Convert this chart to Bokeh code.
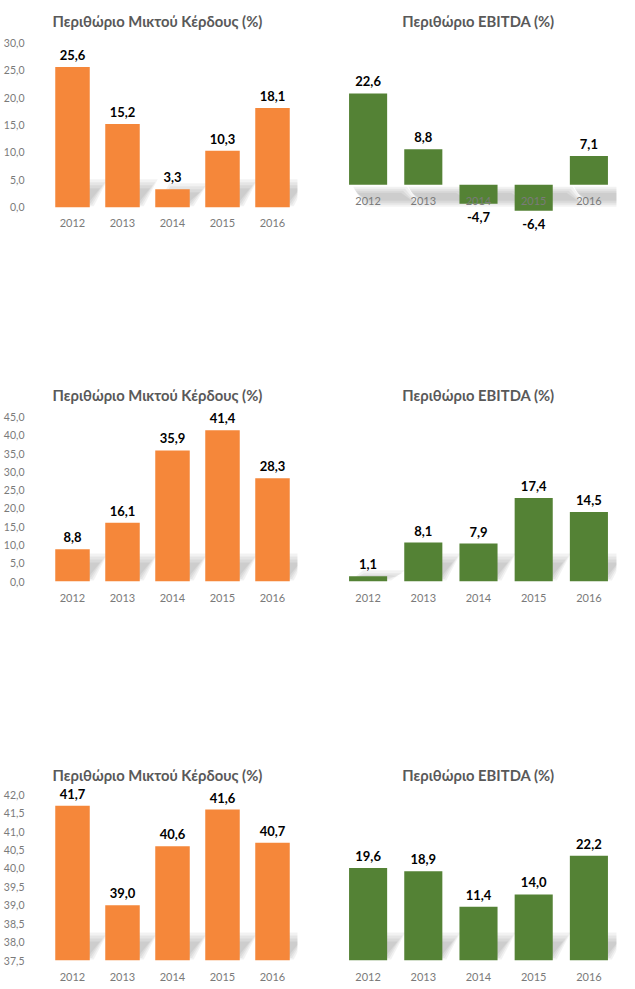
from bokeh.plotting import figure
from bokeh.models import Range1d, FixedTicker, ColumnDataSource, LabelSet
from bokeh.layouts import column, row
from bokeh.core.properties import value
from bokeh.embed import file_html
from bokeh.resources import INLINE

years = ["2012", "2013", "2014", "2015", "2016"]
gross_a = [25.6, 15.2, 3.3, 10.3, 18.1]
ebitda_a = [22.6, 8.8, -4.7, -6.4, 7.1]
gross_b = [8.8, 16.1, 35.9, 41.4, 28.3]
ebitda_b = [1.1, 8.1, 7.9, 17.4, 14.5]
gross_c = [41.7, 39.0, 40.6, 41.6, 40.7]
ebitda_c = [19.6, 18.9, 11.4, 14.0, 22.2]
ticks_a = [0, 5, 10, 15, 20, 25, 30]
ticks_b = [0, 5, 10, 15, 20, 25, 30, 35, 40, 45]
ticks_c = [37.5, 38.0, 38.5, 39.0, 39.5, 40.0, 40.5, 41.0, 41.5, 42.0]
title_gross = "Περιθώριο Μικτού Κέρδους (%)"
title_ebitda = "Περιθώριο EBITDA (%)"

ORANGE = "#F5873A"
GREEN = "#548235"
FONT = "Lato"
TICK_COLOR = "#7A7A7A"
TITLE_COLOR = "#595959"
BAR_W = 0.69


def fmt(v):
    return f"{v:.1f}".replace(".", ",")


def chart(values, color, title, y0, y1, ticks, width, height, borders,
          left_title, base=0.0, shadow_down=False, fixed_axis=False):
    left, right, top, bottom = borders
    fw = width - left - right
    fh = height - top - bottom
    n = len(years)
    kx = fw / n
    ky = fh / (y1 - y0)
    p = figure(width=width, height=height,
               x_range=Range1d(0, n), y_range=Range1d(y0, y1),
               output_backend="svg", toolbar_location=None,
               min_border_left=left, min_border_right=right,
               min_border_top=top, min_border_bottom=bottom,
               y_axis_location="left" if ticks else None)
    p.outline_line_color = None
    p.xgrid.visible = False
    p.ygrid.visible = False

    xs = [i + 0.5 for i in range(n)]

    # soft perspective shadows behind the bars
    for k in range(4):
        sx, sy = [], []
        for x, v in zip(xs, values):
            xl = x - BAR_W / 2
            xr = x + BAR_W / 2
            if shadow_down:
                yt = base - (2 + 2 * k) / ky
                yb = base - (22 - 2 * k) / ky
                sx.append([xl + (4 + k) / kx, xr + (20 - 2 * k) / kx,
                           xr + (34 - 3 * k) / kx, xl + (16 + k) / kx])
                sy.append([yt, yt, yb, yb])
            else:
                bar_px = abs(v - base) * ky
                h = min(28.0, 6 + bar_px)
                yb = base + (1 + 1.5 * k) / ky
                yt = base + max(h - 3 * k, 2 + 1.5 * k) / ky
                sx.append([xl + (2 + 1.5 * k) / kx, xr + (4 - 1.5 * k) / kx,
                           xr + (18 - 2.5 * k) / kx, xl + (14 + k) / kx])
                sy.append([yb, yb, yt, yt])
        p.patches(xs=sx, ys=sy, fill_color="black", fill_alpha=0.05,
                  line_color=None)

    p.vbar(x=xs, top=values, bottom=base, width=BAR_W, fill_color=color,
           line_color=None)

    pos = [(x, v) for x, v in zip(xs, values) if v >= 0]
    neg = [(x, v) for x, v in zip(xs, values) if v < 0]
    if pos:
        src = ColumnDataSource(dict(x=[a for a, _ in pos], y=[b for _, b in pos],
                                    t=[fmt(b) for _, b in pos]))
        p.add_layout(LabelSet(x="x", y="y", text="t", source=src,
                              text_align="center", text_baseline="bottom",
                              y_offset=7, text_font=value(FONT),
                              text_font_style="bold", text_font_size="13px",
                              text_color="black"))
    if neg:
        src = ColumnDataSource(dict(x=[a for a, _ in neg], y=[b for _, b in neg],
                                    t=[fmt(b) for _, b in neg]))
        p.add_layout(LabelSet(x="x", y="y", text="t", source=src,
                              text_align="center", text_baseline="top",
                              y_offset=-8, text_font=value(FONT),
                              text_font_style="bold", text_font_size="13px",
                              text_color="black"))

    xa = p.xaxis[0]
    xa.ticker = FixedTicker(ticks=xs)
    xa.major_label_overrides = {x: y for x, y in zip(xs, years)}
    xa.axis_line_color = None
    xa.major_tick_line_color = None
    xa.minor_tick_line_color = None
    xa.major_label_standoff = 6
    xa.major_label_text_font = FONT
    xa.major_label_text_font_size = "11px"
    xa.major_label_text_color = TICK_COLOR
    if fixed_axis:
        xa.fixed_location = base

    if ticks:
        ya = p.yaxis[0]
        ya.ticker = FixedTicker(ticks=ticks)
        ya.major_label_overrides = {t: fmt(t) for t in ticks}
        ya.axis_line_color = None
        ya.major_tick_line_color = None
        ya.minor_tick_line_color = None
        ya.major_label_standoff = 17
        ya.major_label_text_font = FONT
        ya.major_label_text_font_size = "10.5px"
        ya.major_label_text_color = TICK_COLOR

    p.title.text = title
    p.title.text_font = FONT
    p.title.text_font_style = "bold"
    p.title.text_font_size = "14.8px"
    p.title.text_color = TITLE_COLOR
    p.title.standoff = 2
    if left_title:
        p.title.align = "left"
        p.title.offset = 5
    else:
        p.title.align = "center"
    return p


LW, RW = 318, 312
LB = (47, 21)
RB = (22, 14)
# row 1: height 374, frame 30..235
p1 = chart(gross_a, ORANGE, title_gross, -5.16, 32.25, ticks_a, LW, 374,
           LB + (30, 139), True, fixed_axis=True)
p2 = chart(ebitda_a, GREEN, title_ebitda, -12.55, 38.19, None, RW, 374,
           RB + (30, 139), False, shadow_down=True, fixed_axis=True)
# row 2: height 380, frame 30..207
p3 = chart(gross_b, ORANGE, title_gross, 0, 48.48, ticks_b, LW, 380,
           LB + (30, 173), True)
p4 = chart(ebitda_b, GREEN, title_ebitda, 0, 36.875, None, RW, 380,
           RB + (30, 173), False)
# row 3: height 233, frame 30..206
p5 = chart(gross_c, ORANGE, title_gross, 37.5, 42.28, ticks_c, LW, 233,
           LB + (30, 27), True, base=37.5)
p6 = chart(ebitda_c, GREEN, title_ebitda, 0, 37.29, None, RW, 233,
           RB + (30, 27), False)

layout = column(row(p1, p2), row(p3, p4), row(p5, p6))
open("out.html", "w").write(file_html(layout, INLINE))
